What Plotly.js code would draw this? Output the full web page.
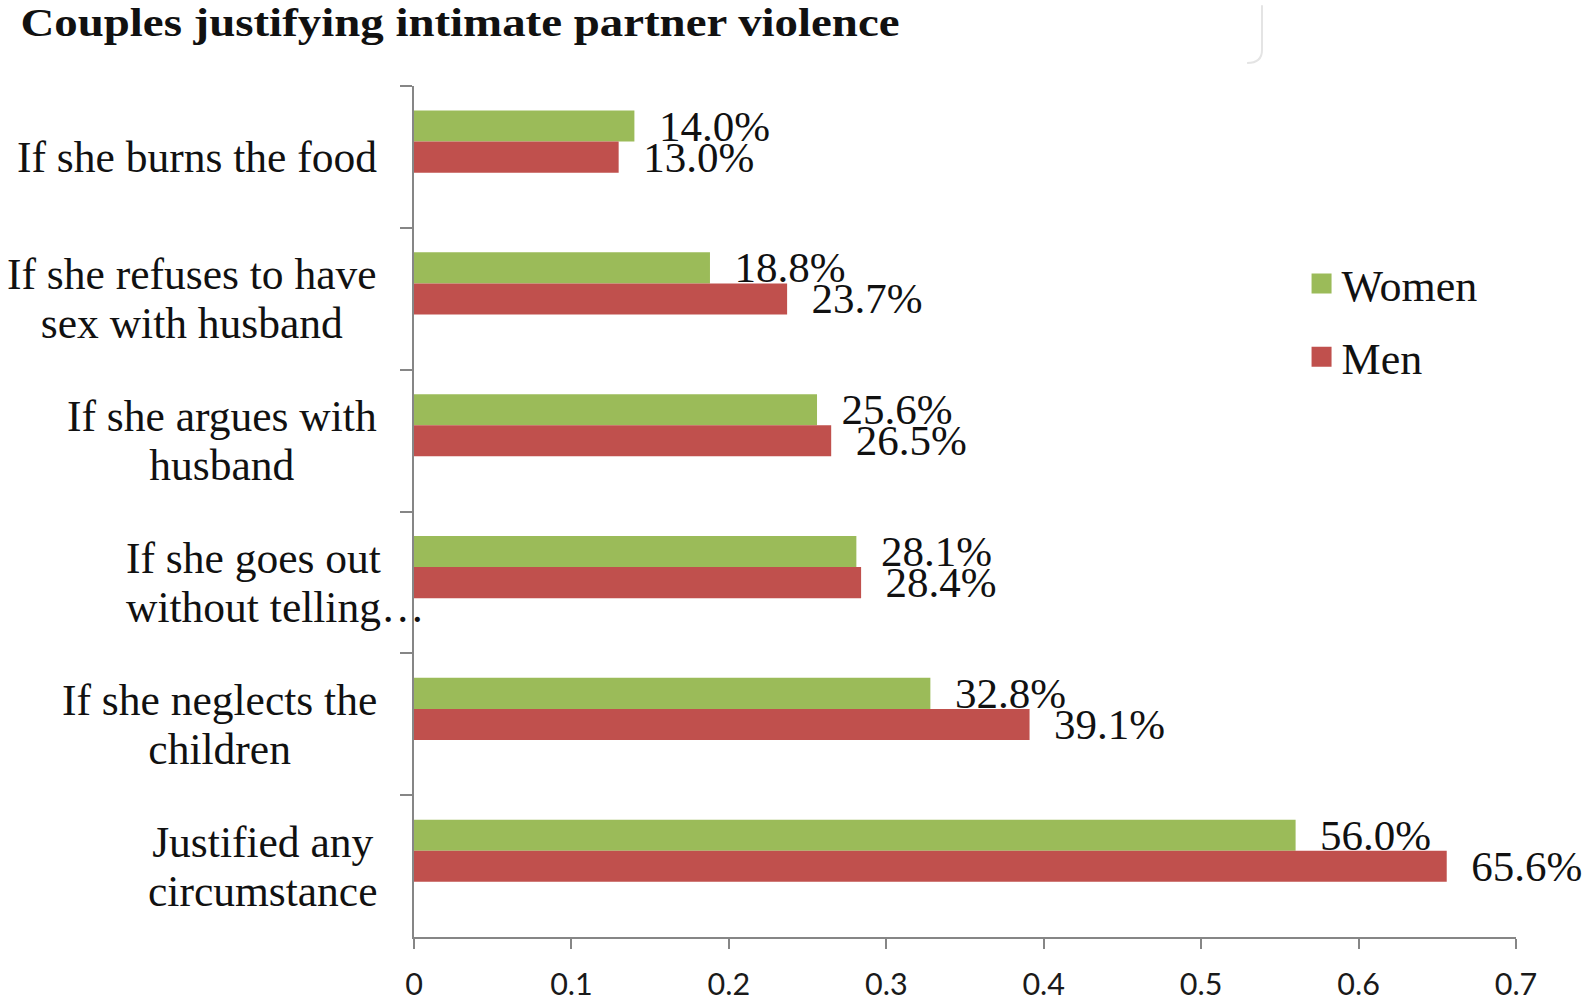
<!DOCTYPE html>
<html>
<head>
<meta charset="utf-8">
<script src="https://cdn.plot.ly/plotly-3.0.1.min.js"></script>
<style>
  html, body { margin: 0; padding: 0; background: #fff; overflow: hidden; }
  #chart { width: 1595px; height: 1002px; }
</style>
</head>
<body>
<div id="chart"></div>
<script>
// ---- data ----
const categories = [
  "If she burns the food",
  "If she refuses to have<br>sex with husband",
  "If she argues with<br>husband",
  "If she goes out<br>without telling…",
  "If she neglects the<br>children",
  "Justified any<br>circumstance"
];
const women = [0.140, 0.188, 0.256, 0.281, 0.328, 0.560];
const men   = [0.130, 0.237, 0.265, 0.284, 0.391, 0.656];
const seriesNames = ["Women", "Men"];
const xTickVals = [0, 0.1, 0.2, 0.3, 0.4, 0.5, 0.6, 0.7];
const xTickText = ["0", "0.1", "0.2", "0.3", "0.4", "0.5", "0.6", "0.7"];
const titleText = "Couples justifying intimate partner violence";

// ---- styling ----
const GREEN = "#9BBB59";
const RED = "#C0504D";
const AXIS = "#868686";
const SERIF = "'Liberation Serif', 'Times New Roman', serif";
const NBSP = "\u00a0\u00a0";
const BAR_W = 0.219;      // bar thickness in category units
const PAIR_SHIFT = -0.108; // bar pair sits slightly above the category centre

function barTrace(name, values, color, offset) {
  return {
    type: "bar",
    orientation: "h",
    name: name,
    y: categories,
    x: values,
    width: BAR_W,
    offset: offset,
    marker: { color: color, line: { width: 0 } },
    texttemplate: NBSP + "%{x:.1%}",
    textposition: "outside",
    constraintext: "none",
    cliponaxis: false,
    textfont: { family: SERIF, size: 43, color: "#111" },
    legendgroup: name,
    hoverinfo: "none"
  };
}

const data = [
  barTrace(seriesNames[0], women, GREEN, PAIR_SHIFT - BAR_W),
  barTrace(seriesNames[1], men, RED, PAIR_SHIFT)
];

const LABEL_FS = 43.5;
// category labels as annotations (centered lines, right-aligned block)
const annotations = categories.map(function (c) {
  const overflow = c.indexOf("…") >= 0;
  return {
    xref: "paper", yref: "y",
    x: 0, y: c,
    xanchor: "right", yanchor: "middle",
    xshift: overflow ? 12 : -35,
    align: overflow ? "left" : "center",
    text: c,
    showarrow: false,
    font: { family: SERIF, size: LABEL_FS, color: "#111" }
  };
});

const layout = {
  width: 1595, height: 1002,
  margin: { l: 414, r: 79, t: 86, b: 65, pad: 0 },
  paper_bgcolor: "#fff",
  plot_bgcolor: "#fff",
  barmode: "group",
  title: {
    text: "<b>" + titleText + "</b>",
    font: { family: SERIF, size: 40, color: "#111" },
    x: 0.0128, xanchor: "left", xref: "container",
    y: 0.978, yanchor: "middle", yref: "container"
  },
  xaxis: {
    range: [0, 0.7],
    tickmode: "array",
    tickvals: xTickVals,
    ticktext: xTickText,
    showgrid: false, zeroline: false,
    showline: true, linecolor: AXIS, linewidth: 2,
    ticks: "outside", ticklen: 10, tickwidth: 2, tickcolor: AXIS,
    ticklabelstandoff: 9,
    tickfont: { family: "Lato, 'Open Sans', sans-serif", size: 30.5, color: "#1a1a1a" },
    fixedrange: true
  },
  yaxis: {
    type: "category",
    autorange: "reversed",
    showticklabels: false,
    showgrid: false, zeroline: false,
    showline: true, linecolor: AXIS, linewidth: 2,
    ticks: "outside", ticklen: 12, tickwidth: 2, tickcolor: AXIS,
    tickson: "boundaries",
    fixedrange: true
  },
  showlegend: true,
  legend: {
    x: 0.8054, xanchor: "left",
    y: 0.7245, yanchor: "middle",
    font: { family: SERIF, size: 44, color: "#111" },
    traceorder: "grouped",
    tracegroupgap: 13,
    bgcolor: "rgba(0,0,0,0)",
    borderwidth: 0
  },
  annotations: annotations,
  shapes: [{
    type: "path", xref: "paper", yref: "paper",
    path: "M 0.7695 1.095 L 0.7695 1.0423 Q 0.7695 1.027 0.756 1.027",
    line: { color: "#e4e4e4", width: 2 }
  }]
};

function tidy() {
  // bigger square legend swatches (keep Plotly's own translate)
  document.querySelectorAll(".legendpoints path").forEach(function (p) {
    p.setAttribute("d", "M10,10H-10V-10H10Z");
  });
  // tighter line spacing for two-line category labels
  document.querySelectorAll(".annotation-text").forEach(function (t) {
    const lines = t.querySelectorAll("tspan.line");
    if (lines.length === 2) {
      lines[1].setAttribute("dy", "1.13em");
      const dyShift = (1.3 - 1.13) * LABEL_FS / 2;
      const prev = t.getAttribute("transform") || "";
      t.setAttribute("transform", prev + " translate(0," + dyShift.toFixed(2) + ")");
    }
  });
  // the reference title is set in a wide, squat bold face: stretch horizontally
  const tt = document.querySelector(".gtitle");
  if (tt) {
    const x0 = parseFloat(tt.getAttribute("x")) || 0;
    const prev = tt.getAttribute("transform") || "";
    tt.setAttribute("transform",
      "translate(" + x0 + ",0) scale(1.172,1) translate(" + (-x0) + ",0) " + prev);
  }
}

Plotly.newPlot("chart", data, layout, { staticPlot: true, displayModeBar: false }).then(tidy);
</script>
</body>
</html>
